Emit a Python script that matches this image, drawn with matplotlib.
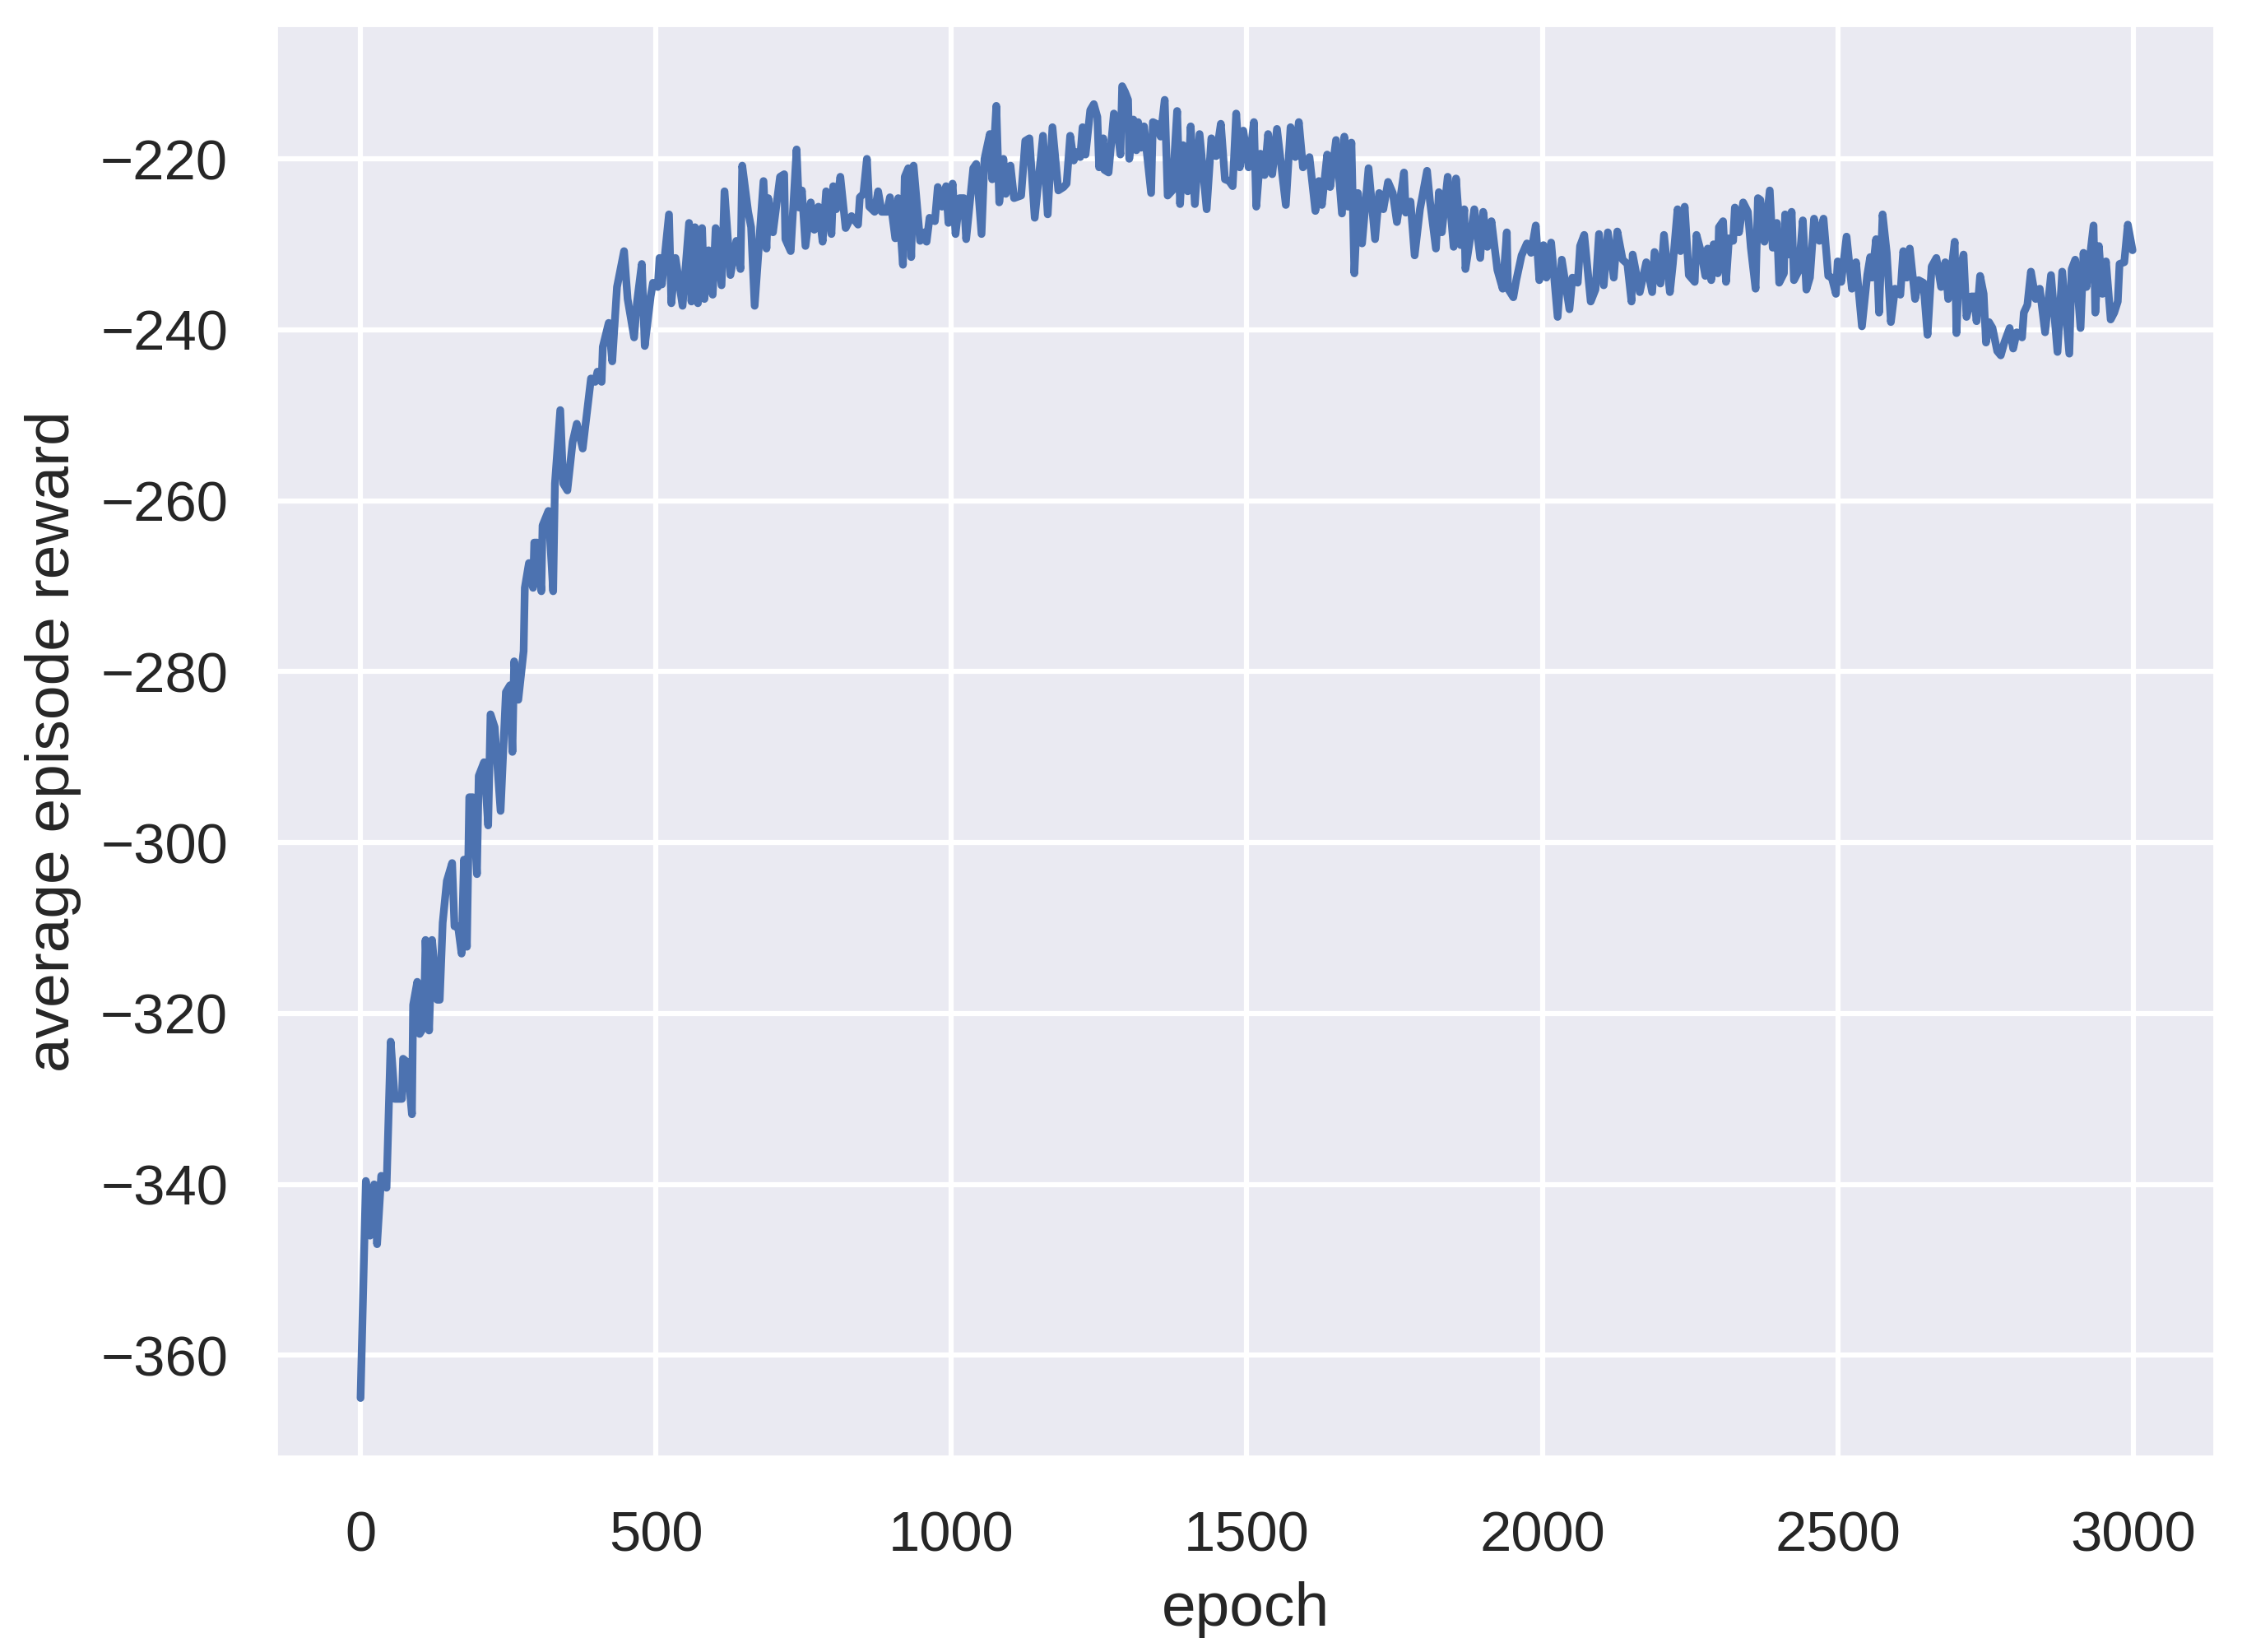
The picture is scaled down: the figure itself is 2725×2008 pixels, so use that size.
import numpy as np
import matplotlib
matplotlib.use('Agg')
import matplotlib.pyplot as plt
import seaborn as sns

# epochs and average episode reward
epochs_a = [0, 9, 16, 23, 28, 35, 44, 51, 58, 70, 72, 79, 87, 89, 96, 100, 107, 110, 116, 121,
            130, 134, 139, 146, 155, 159, 165, 171, 175, 180, 184, 190, 197, 200, 209, 216, 220,
            227, 237, 246, 253, 257, 260, 267, 276, 278, 285, 292, 294, 299, 306, 308, 318, 326,
            329, 338, 343, 350, 359, 366, 376, 390, 397, 401, 408, 410, 420, 426, 434]
reward_a = [-365, -339.6, -346, -340, -347, -339, -340.4, -323.3, -330, -330, -325.3, -325.7,
            -331.8, -319, -316.3, -322.4, -321.6, -311.4, -322, -311.4, -318.4, -318.4, -309.4,
            -304.5, -302.4, -309.8, -309.8, -313, -302, -312.2, -294.7, -294.7, -303.7, -292.2,
            -290.6, -298, -285, -286.5, -296.3, -282.4, -281.6, -289.4, -278.8, -283.3, -277.6,
            -270.2, -267.3, -270.2, -264.9, -264.9, -270.6, -262.9, -261.2, -270.6, -258, -249.4,
            -258, -258.8, -253.1, -251, -253.9, -245.7, -246.1, -244.9, -246.1, -242, -239.2,
            -243.7, -235]

epochs_b = [446, 452, 463, 468, 476, 481, 491, 495, 503, 506, 510, 522, 526, 533, 545, 556, 560,
            566, 571, 578, 582, 589, 596, 601, 611, 616, 626, 636, 643, 646, 656, 661, 667, 682,
            687, 690, 698, 710, 717, 719, 728, 738, 742, 747, 753, 762, 768, 775, 782, 788, 797,
            800, 805, 812, 821, 831, 842, 845, 851, 857, 861, 870, 876, 882, 891, 896, 905, 910,
            918, 921, 927, 932, 936, 947, 954, 958, 963, 972, 977, 984, 991]
reward_b = [-230.8, -236.4, -240.9, -236.7, -232.3, -241.9, -236.1, -234.5, -235, -231.6, -234.7,
            -226.5, -236.9, -231.6, -237.2, -227.5, -236.7, -228, -236.9, -228.1, -236.4, -230.7,
            -235.9, -228.1, -234.8, -223.8, -233.6, -229.6, -232.9, -220.8, -226.2, -228, -237.2,
            -222.6, -230.5, -224.6, -228.6, -222.1, -221.8, -229.4, -230.8, -218.9, -225.7,
            -223.7, -230.2, -225.1, -228.3, -225.6, -229.7, -223.8, -228.8, -223.2, -225.9,
            -222.1, -228.1, -226.7, -227.7, -224.5, -224.1, -220, -225.6, -226.2, -223.8, -226.2,
            -226.2, -224.5, -229.3, -224.6, -232.4, -222.1, -221.1, -231.5, -220.8, -229.6,
            -228.6, -229.7, -226.9, -227.3, -223.3, -225.6, -223.2]

epochs_c = [995, 1002, 1007, 1014, 1021, 1025, 1037, 1042, 1051, 1056, 1065, 1069, 1076, 1081,
            1088, 1092, 1100, 1106, 1118, 1125, 1132, 1141, 1155, 1163, 1171, 1181, 1190, 1195,
            1201, 1207, 1213, 1218, 1222, 1227, 1235, 1241, 1247, 1250, 1257, 1259, 1266, 1275,
            1280, 1286, 1289, 1294, 1299, 1301, 1308, 1313, 1316, 1321, 1326, 1338, 1341, 1347,
            1354, 1361, 1366, 1374, 1382, 1387, 1392, 1400, 1405, 1412, 1420, 1432, 1440, 1448,
            1456, 1463, 1470, 1476, 1482, 1488, 1494, 1503, 1512, 1516, 1523, 1530, 1536, 1543,
            1551, 1566, 1574, 1582, 1588, 1595, 1606, 1616, 1622, 1627, 1636, 1641, 1651, 1661,
            1665, 1671, 1677, 1682, 1688]
reward_c = [-227.5, -222.9, -228.8, -224.6, -224.6, -229.4, -221.1, -220.6, -228.8, -220, -217.1,
            -222.4, -213.8, -225.1, -220, -224.1, -220.8, -224.6, -224.3, -217.9, -217.6, -226.9,
            -217.3, -226.5, -216.3, -223.7, -223.3, -222.9, -217.3, -220.2, -219.2, -219.8,
            -216.3, -219.5, -214.3, -213.6, -215.1, -221, -217.6, -221.3, -221.6, -214.7, -216,
            -219.5, -211.5, -212.2, -213.1, -220, -215.4, -219, -215.7, -218.7, -216.2, -224,
            -215.7, -215.9, -217.4, -213.1, -224.3, -223.7, -214.4, -225.3, -218.4, -223.8,
            -216.2, -225.3, -217.1, -225.9, -217.6, -219.7, -215.9, -222.4, -222.6, -223.2,
            -214.7, -221, -216.7, -221, -215.7, -225.6, -219.4, -221.9, -217.1, -221.8, -216.5,
            -225.4, -216.3, -219.8, -215.7, -221, -219.8, -226.1, -222.6, -225.4, -219.5, -223.3,
            -217.8, -226.4, -217.4, -225.6, -218.1, -233.4, -224]

epochs_d = [1695, 1706, 1717, 1724, 1731, 1739, 1747, 1754, 1766, 1769, 1777, 1784, 1793, 1805,
            1810, 1820, 1825, 1830, 1840, 1850, 1854, 1862, 1868, 1870, 1878, 1885, 1895, 1900,
            1907, 1914, 1924, 1933, 1940, 1942, 1951, 1956, 1965, 1974, 1981, 1989, 1995, 2002,
            2007, 2015, 2026, 2033, 2046, 2051, 2060, 2064, 2071, 2082, 2090, 2096, 2104, 2111,
            2121, 2127, 2136, 2144, 2151, 2153, 2165, 2176, 2186, 2190, 2200, 2206, 2216, 2221,
            2229, 2234, 2241]
reward_d = [-229.9, -221.1, -229.4, -224, -225.9, -222.7, -224, -227.4, -221.6, -226.3, -225,
            -231.3, -225.9, -221.4, -225, -230.5, -223.9, -228.6, -222.1, -230.3, -222.3, -230.1,
            -225.9, -232.9, -229.3, -225.9, -231.6, -226.2, -230.3, -227.3, -233, -235.2, -228.6,
            -235.2, -236.2, -234.2, -231.3, -229.9, -231, -227.8, -234.2, -230.1, -233.9, -229.8,
            -238.5, -231.8, -237.6, -233.9, -234.5, -230.2, -228.9, -236.7, -235.3, -228.8,
            -234.8, -228.6, -233.9, -228.5, -231.8, -232.3, -236.7, -231.2, -235.6, -232.1,
            -235.6, -230.9, -234.6, -228.9, -235.6, -232.3, -225.9, -230.8, -225.6]

epochs_e = [2248, 2258, 2261, 2269, 2276, 2280, 2286, 2290, 2297, 2299, 2306, 2311, 2316, 2323,
            2326, 2333, 2340, 2348, 2353, 2361, 2365, 2369, 2376, 2385, 2390, 2397, 2401, 2409,
            2411, 2418, 2422, 2426, 2434, 2441, 2447, 2453, 2460, 2469, 2476, 2484, 2490, 2497,
            2500, 2506, 2515, 2524, 2531, 2541, 2550, 2555, 2558, 2565, 2570, 2576, 2583, 2590,
            2597, 2606, 2611, 2617, 2622, 2631, 2637, 2645, 2652, 2659, 2667, 2675, 2682, 2687,
            2698, 2701]
reward_e = [-233.6, -234.4, -228.9, -231, -233.7, -230.5, -234.2, -230, -233.4, -228, -227.3,
            -234.4, -229.3, -229.6, -225.7, -228.6, -225.1, -226.2, -230.4, -235.2, -224.6,
            -224.8, -229.7, -223.7, -230.4, -227.5, -234.5, -233.4, -226.5, -231.2, -226.2,
            -234.2, -233.1, -227.2, -235.3, -233.9, -227, -229.6, -227, -233.7, -233.9, -235.8,
            -232, -234.4, -229.1, -235.2, -232.1, -239.6, -233.6, -231.5, -233.9, -229.4, -238,
            -226.5, -231, -239.1, -235.2, -235.9, -230.8, -233.9, -230.5, -236.4, -234.2, -234.5,
            -240.6, -232.6, -231.6, -235, -232.1, -236.4, -229.7, -240.4]

epochs_f = [2705, 2713, 2718, 2726, 2731, 2735, 2741, 2747, 2751, 2756, 2762, 2770, 2776, 2782,
            2791, 2797, 2803, 2812, 2815, 2821, 2827, 2835, 2842, 2851, 2861, 2872, 2880, 2892,
            2896, 2902, 2911, 2916, 2921, 2933, 2936, 2942, 2948, 2954, 2962, 2968, 2974, 2977,
            2985, 2991, 2999]
reward_f = [-233.7, -231.2, -238.5, -236.1, -236.1, -239, -233.7, -235.8, -241.5, -239.1, -239.8,
            -242.5, -243, -241.5, -239.8, -242.2, -240.3, -240.9, -238, -237.1, -233.2, -236.4,
            -235.2, -240.3, -233.6, -242.6, -233.2, -242.8, -232.9, -231.8, -239.8, -231, -235,
            -227.8, -238, -230.2, -235.8, -232, -238.8, -238, -236.7, -232.3, -232.1, -227.7,
            -230.7]

epochs = epochs_a + epochs_b + epochs_c + epochs_d + epochs_e + epochs_f
reward = reward_a + reward_b + reward_c + reward_d + reward_e + reward_f

sns.set_theme(context='talk', style='darkgrid')
plt.rcParams['font.family'] = ['Liberation Sans', 'DejaVu Sans']
plt.rcParams['xtick.major.pad'] = 5.9
plt.rcParams['ytick.major.pad'] = 4.7
plt.rcParams['axes.labelpad'] = 5.5

fig, ax = plt.subplots(figsize=(2725 / 300, 2008 / 300), dpi=300)
fig.subplots_adjust(left=0.1226, right=0.9886, top=0.9856, bottom=0.1170)
ax.plot(epochs, reward, color='#4C72B0')
ax.set_xlim(-145, 3141)
ax.set_ylim(-372.1, -204.2)
ax.set_xlabel('epoch')
ax.set_ylabel('average episode reward')
fig.savefig('out.png', dpi=300)
